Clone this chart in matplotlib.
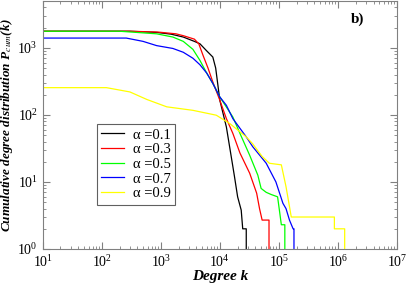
import numpy as np
import matplotlib
matplotlib.use("Agg")
import matplotlib.pyplot as plt
from matplotlib.ticker import LogLocator, NullFormatter

plt.rcParams['font.family'] = ['Liberation Serif', 'DejaVu Serif']
plt.rcParams['mathtext.fontset'] = 'stix'

# degree k and cumulative distribution
k_01 = [10, 300, 850, 1500, 2400, 3700, 4600, 6000, 7600, 8500, 10000, 12900, 16600, 17700, 20000, 23000, 24400, 28000, 28000]
p_01 = [1770, 1770, 1700, 1600, 1450, 1250, 1150, 900, 730, 500, 165, 66, 17, 12, 6, 3.8, 2, 2, 1]

k_03 = [10, 300, 900, 1800, 2400, 3700, 4400, 5200, 6300, 7600, 10000, 12900, 16600, 21900, 32000, 42000, 47000, 52000, 61000, 68000, 68000]
p_03 = [1770, 1770, 1720, 1620, 1520, 1350, 1150, 770, 500, 310, 165, 88, 53, 27, 13.5, 6.8, 4, 2.7, 2.7, 2.7, 1]

k_05 = [10, 200, 850, 1600, 2400, 3500, 4600, 6000, 7600, 10000, 16600, 21900, 32000, 44000, 50000, 61000, 74000, 95000, 100000, 110000, 126000, 126000]
p_05 = [1770, 1770, 1620, 1450, 1250, 950, 650, 420, 295, 185, 93, 53, 25, 12.6, 8, 7, 6.5, 6, 4.3, 2.3, 2.3, 1]

k_07 = [10, 260, 500, 850, 1600, 2400, 3500, 4600, 6000, 7600, 10000, 12900, 16600, 28000, 36000, 61000, 89000, 117000, 132000, 151000, 174000, 180000, 180000]
p_07 = [1400, 1400, 1250, 1080, 980, 860, 700, 560, 420, 295, 185, 139, 88, 47, 33.6, 19, 10, 4.8, 4, 2.7, 2, 2, 1]

k_09 = [10, 120, 300, 580, 1260, 3500, 8700, 14800, 28000, 36000, 52000, 69000, 110000, 132000, 151000, 162000, 870000, 870000, 1300000, 1300000]
p_09 = [255, 255, 220, 170, 132, 117, 99, 74, 47, 37, 24, 19, 18, 8.5, 4.3, 3, 3, 2, 2, 1]

series = [(k_01, p_01, 'black', 'α =0.1'),
          (k_03, p_03, 'red', 'α =0.3'),
          (k_05, p_05, '#00ff00', 'α =0.5'),
          (k_07, p_07, 'blue', 'α =0.7'),
          (k_09, p_09, '#ffff00', 'α =0.9')]

fig = plt.figure(figsize=(4.07, 2.86), dpi=100)
ax = fig.add_axes([42.7/407, 37/286, 354.3/407, 248/286])

for k, p, c, lab in series:
    ax.plot(k, p, color=c, lw=0.9, label=lab)

ax.set_xscale('log')
ax.set_yscale('log')
ax.set_xlim(10, 1e7)
ax.set_ylim(1, 5000)

ax.xaxis.set_major_locator(LogLocator(base=10, numticks=10))
ax.xaxis.set_minor_locator(LogLocator(base=10, subs=np.arange(2, 10), numticks=20))
ax.xaxis.set_minor_formatter(NullFormatter())
ax.yaxis.set_major_locator(LogLocator(base=10, numticks=10))
ax.yaxis.set_minor_locator(LogLocator(base=10, subs=np.arange(2, 10), numticks=20))
ax.yaxis.set_minor_formatter(NullFormatter())
ax.tick_params(which='both', direction='in', top=True, right=True, colors='#808080',
               labelcolor='black', labelsize=10)
ax.tick_params(which='major', length=5)
ax.tick_params(which='minor', length=2.5)
for s in ax.spines.values():
    s.set_color('#808080')

ax.set_xlabel('Degree k', fontsize=11, fontweight='bold', fontstyle='italic', labelpad=0)
ax.set_ylabel(r'Cumulative degree distribution P$_{cum}$(k)', fontsize=9.5,
              fontweight='bold', fontstyle='italic')
ax.yaxis.set_label_coords(-0.077, 0.5)
ax.text(0.87, 0.91, 'b)', transform=ax.transAxes, fontsize=11, fontweight='bold')

leg = ax.legend(loc='upper left', bbox_to_anchor=(0.152, 0.504), borderaxespad=0,
                fontsize=10.5, fancybox=False, framealpha=1, edgecolor='#606060',
                handlelength=1.6, handletextpad=0.6, labelspacing=0.1, borderpad=0.3)
leg.get_frame().set_linewidth(0.8)

fig.savefig('out.png', dpi=100)
